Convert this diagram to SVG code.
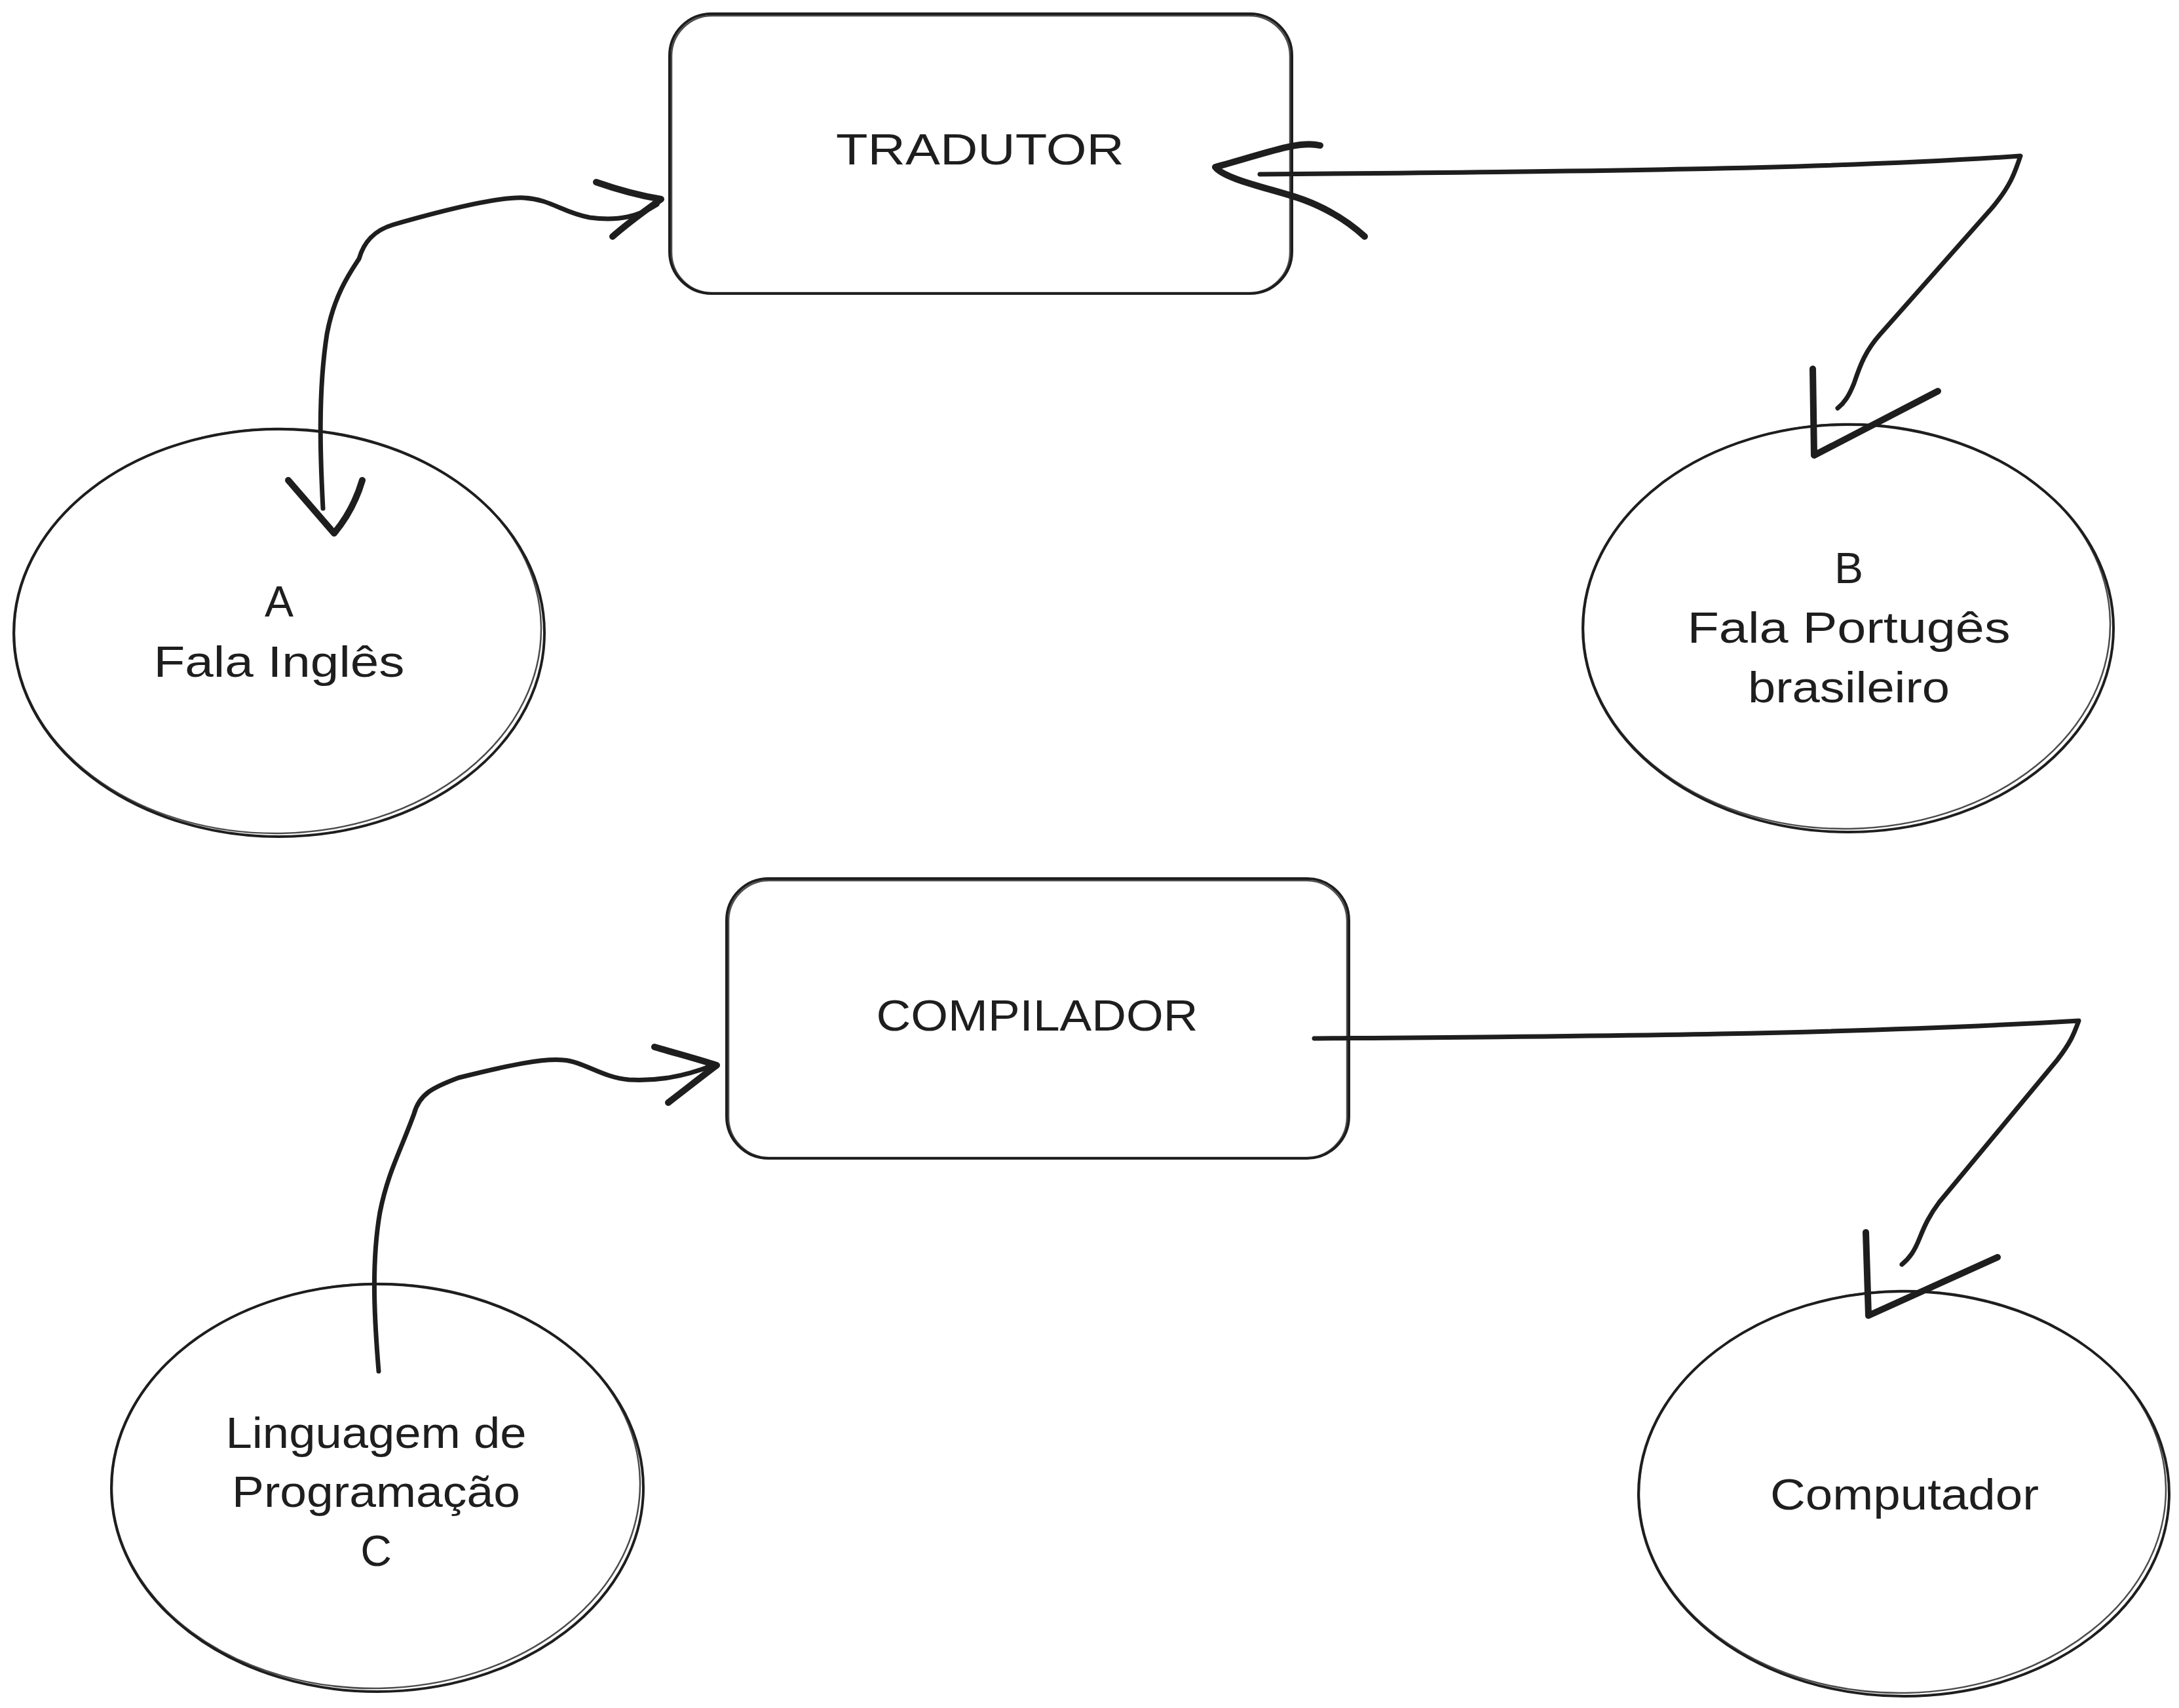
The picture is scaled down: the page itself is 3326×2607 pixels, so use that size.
<svg xmlns="http://www.w3.org/2000/svg" width="3326" height="2607" viewBox="0 0 3326 2607">
<style>
.bg{fill:#ffffff}
.shape{fill:none;stroke:#1e1e1e;stroke-width:4;stroke-linecap:round;stroke-linejoin:round}
.shape2{fill:none;stroke:#1e1e1e;stroke-width:2.5;stroke-linecap:round;opacity:0.8}
.shaft{fill:none;stroke:#1e1e1e;stroke-width:7;stroke-linecap:round;stroke-linejoin:round}
.head{fill:none;stroke:#1e1e1e;stroke-width:10;stroke-linecap:round;stroke-linejoin:round}
.label{font-family:"Liberation Sans","Open Sans",sans-serif;font-size:66px;fill:#1e1e1e;text-anchor:middle}
</style>
<rect class="bg" x="0" y="0" width="3326" height="2607"/>

<g id="node-tradutor">
<rect class="shape" x="1022" y="21" width="950" height="427" rx="64" ry="64"/>
<rect class="shape2" x="1025" y="24" width="944" height="423" rx="62" ry="62"/>
<text class="label" x="1496" y="251" textLength="440" lengthAdjust="spacingAndGlyphs">TRADUTOR</text>
</g>

<g id="node-compilador">
<rect class="shape" x="1109" y="1341" width="950" height="427" rx="64" ry="64"/>
<rect class="shape2" x="1112" y="1344" width="944" height="423" rx="62" ry="62"/>
<text class="label" x="1583" y="1573" textLength="491" lengthAdjust="spacingAndGlyphs">COMPILADOR</text>
</g>

<g id="node-a">
<ellipse class="shape" cx="426" cy="966" rx="405" ry="311"/>
<ellipse class="shape2" cx="424" cy="963" rx="402" ry="309" transform="rotate(-1 424 963)"/>
<text class="label" x="426" y="941">A</text>
<text class="label" x="426" y="1033" textLength="383" lengthAdjust="spacingAndGlyphs">Fala Inglês</text>
</g>

<g id="node-b">
<ellipse class="shape" cx="2821" cy="959" rx="405" ry="311"/>
<ellipse class="shape2" cx="2819" cy="956" rx="402" ry="309" transform="rotate(-1 2819 956)"/>
<text class="label" x="2822" y="890">B</text>
<text class="label" x="2822" y="981" textLength="493" lengthAdjust="spacingAndGlyphs">Fala Portugês</text>
<text class="label" x="2822" y="1072" textLength="308" lengthAdjust="spacingAndGlyphs">brasileiro</text>
</g>

<g id="node-linguagem">
<ellipse class="shape" cx="576" cy="2271" rx="406" ry="311"/>
<ellipse class="shape2" cx="574" cy="2268" rx="403" ry="309" transform="rotate(-1 574 2268)"/>
<text class="label" x="574" y="2210" textLength="459" lengthAdjust="spacingAndGlyphs">Linguagem de</text>
<text class="label" x="574" y="2300" textLength="440" lengthAdjust="spacingAndGlyphs">Programação</text>
<text class="label" x="574" y="2390">C</text>
</g>

<g id="node-computador">
<ellipse class="shape" cx="2906" cy="2280" rx="405" ry="309"/>
<ellipse class="shape2" cx="2904" cy="2277" rx="402" ry="307" transform="rotate(-1 2904 2277)"/>
<text class="label" x="2907" y="2304" textLength="410" lengthAdjust="spacingAndGlyphs">Computador</text>
</g>

<g id="connectors">
<g id="edge-a-tradutor">
<path class="shaft" d="M 493 776 C 489 700, 485 600, 499 510 C 510 450, 535 415, 548 395 C 555 370, 570 352, 600 343 C 680 320, 760 300, 800 302 C 840 304, 860 325, 900 332 C 945 338, 975 330, 1003 312"/>
<path class="head" d="M 910 278 C 950 292, 985 300, 1009 304 M 935 361 C 965 335, 990 318, 1009 304"/>
<path class="head" d="M 440 733 L 510 814 C 530 790, 545 760, 553 733"/>
</g>
<g id="edge-b-tradutor">
<path class="shaft" d="M 2805 623 C 2815 615, 2822 605, 2830 585 C 2840 555, 2848 535, 2870 510 L 3040 318 C 3068 285, 3075 265, 3084 238 C 2800 258, 2400 262, 1923 266"/>
<path class="head" d="M 2015 222 C 1980 214, 1930 235, 1855 255 C 1870 275, 1950 290, 1990 305 C 2030 320, 2060 340, 2083 361"/>
<path class="head" d="M 2767 563 L 2769 695 L 2958 597"/>
</g>
<g id="edge-linguagem-compilador">
<path class="shaft" d="M 578 2093 C 572 2020, 566 1930, 580 1850 C 592 1790, 610 1760, 632 1700 C 640 1670, 660 1660, 700 1645 C 780 1625, 830 1615, 860 1618 C 890 1620, 920 1645, 960 1648 C 1000 1650, 1040 1645, 1088 1626"/>
<path class="head" d="M 999 1598 C 1040 1610, 1070 1618, 1094 1626 M 1020 1683 C 1050 1660, 1075 1640, 1094 1626"/>
</g>
<g id="edge-compilador-computador">
<path class="shaft" d="M 2006 1585 C 2400 1582, 2800 1580, 3173 1558 C 3165 1580, 3160 1592, 3140 1618 L 2960 1835 C 2945 1855, 2938 1870, 2930 1890 C 2922 1910, 2915 1920, 2903 1930"/>
<path class="head" d="M 2848 1881 L 2852 2008 L 3049 1919"/>
</g>
</g>
</svg>
